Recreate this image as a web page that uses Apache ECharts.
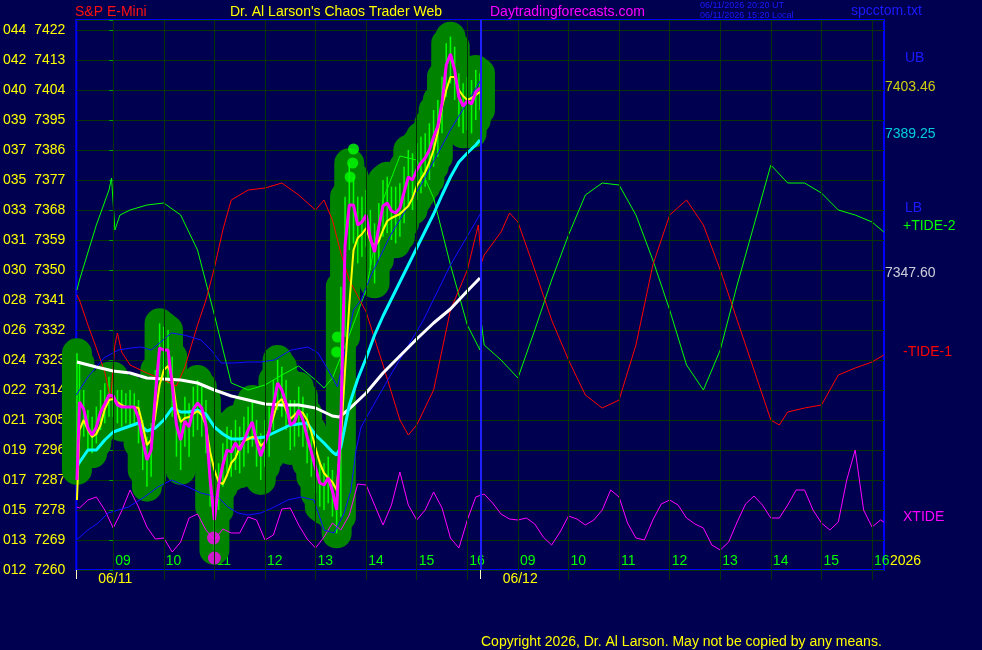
<!DOCTYPE html>
<html><head><meta charset="utf-8">
<script src="https://cdn.jsdelivr.net/npm/echarts@6/dist/echarts.min.js"></script>
<style>html,body{margin:0;padding:0;background:#000050;}#c{width:982px;height:650px;}</style>
</head><body><div id="c"></div>
<script>
// ---------- DATA ----------
const yTickValues = [7260,7269,7278,7287,7296,7305,7314,7323,7332,7341,7350,7359,7368,7377,7386,7395,7404,7413,7422];
const yTickLabels = ['012  7260','013  7269','015  7278','017  7287','019  7296','021  7305','022  7314','024  7323','026  7332','028  7341','030  7350','031  7359','033  7368','035  7377','037  7386','039  7395','040  7404','042  7413','044  7422'];
const hourTicks = [0,60,120,180,240,300,360,420,480,540,600,660,720,780,840,900]; // session minutes
const hourLabels = ['09','10','11','12','13','14','15','16','09','10','11','12','13','14','15','16'];
const dayTicks = [-43.8, 435.8];
const dayLabels = ['06/11','06/12'];

// price samples (session minutes)
const priceTimes = [-43]; for (let m = -40; m <= 435; m += 5) priceTimes.push(m);
const fastLine = [7287,7310.4,7308.3,7302.6,7300.5,7302.9,7307.4,7309.8,7312.5,
 7312.2,7309.5,7308.9,7308.9,7308.9,7308.9,7305.6,7299,7293,7296,
 7312.5,7326.6,7326,7326,7315.5,7303.5,7299,7304.7,7302.9,7308.3,
 7310.1,7308.6,7303.5,7287,7275,7285.5,7291.5,7296,7295.4,7298.1,
 7296,7298.7,7302,7304.4,7298.4,7294.2,7298.1,7301.4,7309.5,7316.1,
 7314,7310.1,7303.5,7304.4,7308,7305,7299.9,7295.4,7290.6,7286.1,
 7285.5,7287.6,7283.7,7278,7305,7357.5,7369.5,7369.5,7363.5,7364.4,
 7366.5,7359.6,7355.4,7362.9,7369.2,7370.1,7367.7,7367.1,7368.6,7373.4,
 7377.9,7377,7380,7382.1,7383.6,7386,7389.9,7393.2,7400.1,7411.5,
 7414.8,7410,7401.9,7399.2,7400.7,7399.8,7403.4,7404.6];
const slowLine = [7281,7302,7305,7302,7299.9,7300.8,7303.5,7308.3,7311,
 7311.3,7310.4,7309.5,7308.9,7308.9,7308.9,7308.6,7303.5,7297.5,7299,
 7306.5,7315.5,7320,7321.2,7317.6,7308.6,7304.4,7305.6,7305.9,7306.8,
 7307.7,7306.5,7303.2,7295.4,7290,7286.4,7285.8,7288.5,7292.1,7293.6,
 7296.9,7298.7,7299.3,7299.9,7299.6,7297.2,7298.4,7302,7305.9,7310.1,
 7311.3,7308,7305.3,7306.5,7307.7,7307.1,7305,7301.4,7296.6,7292.1,
 7289.1,7287.6,7286.4,7284,7299,7320,7339.5,7356,7359.6,7360.8,
 7362.6,7358.7,7357.2,7358.7,7362,7364.7,7365.6,7366.2,7366.8,7368,
 7369.2,7371.6,7375.2,7377.3,7379.4,7382.4,7386,7391.4,7398.9,7404,
 7407.9,7407.9,7404,7402.2,7401,7401.6,7402.5,7403.4];
const barHigh = [7325,7322,7314,7308,7306,7309,7314,7316,7318,
 7318,7314,7314,7313,7314,7313,7311,7305,7300,7304,
 7320,7334,7333,7332,7324,7310,7306,7312,7310,7315,
 7317,7315,7311,7296,7282,7292,7298,7303,7302,7305,
 7303,7306,7309,7311,7305,7301,7305,7309,7317,7323,
 7321,7317,7311,7311,7315,7312,7307,7302,7297,7293,
 7292,7294,7290,7285,7345,7372,7382,7378,7372,7372,
 7374,7368,7364,7370,7377,7378,7375,7375,7376,7381,
 7386,7385,7388,7390,7391,7394,7398,7401,7408,7418,
 7420,7417,7409,7406,7408,7407,7410,7409];
const barLow = [7290,7300,7300,7296,7295,7298,7302,7304,7306,
 7306,7304,7303,7304,7303,7304,7298,7290,7285,7288,
 7305,7318,7318,7316,7306,7294,7290,7297,7294,7300,
 7302,7300,7295,7279,7266,7278,7285,7289,7288,7290,
 7289,7291,7295,7297,7291,7287,7291,7294,7302,7308,
 7306,7302,7296,7297,7300,7297,7292,7288,7283,7279,
 7278,7280,7276,7271,7276,7330,7356,7358,7352,7354,
 7357,7350,7346,7353,7360,7361,7359,7358,7360,7364,
 7369,7368,7371,7373,7375,7377,7381,7384,7391,7402,
 7406,7401,7393,7391,7392,7391,7395,7398];
const cyanLine = [[-43,7291.2],[-30,7296],[-20,7296],[-10,7299],[0,7301.4],[10,7302.3],[20,7303.2],[30,7304.1],[40,7301.7],[50,7302.6],[60,7305],[70,7308.6],[80,7307.4],[90,7307.4],[100,7308],[110,7306.8],[120,7302.9],[130,7300.8],[140,7299.3],[150,7299.3],[160,7299.6],[170,7299.6],[180,7299.9],[190,7301.1],[200,7302.3],[210,7303.5],[220,7303.8],[230,7304.1],[240,7300.5],[250,7298.1],[260,7295.4],[265,7294.5],[270,7296.9],[280,7309.5],[290,7317.3],[300,7323.6],[310,7330.5],[320,7336.2],[330,7341.3],[340,7346.4],[350,7351.5],[360,7356.6],[370,7361.7],[380,7366.8],[390,7372.5],[400,7377.9],[410,7382.4],[420,7385.1],[430,7387.5],[435,7389]];
const whiteLine = [[-43,7322.4],[-20,7320.9],[0,7319.7],[20,7319.1],[40,7317.6],[60,7317.3],[80,7317],[100,7316.1],[120,7314],[140,7312.2],[160,7311],[180,7309.8],[200,7309.5],[220,7309.5],[240,7308.6],[260,7306.2],[268,7305.9],[280,7308.3],[300,7313.1],[320,7319.1],[340,7324.2],[360,7329.3],[380,7334.1],[400,7338.3],[420,7343.7],[435,7347.6]];
const upperBand = [[-43.8,7312.5],[-30,7317.9],[-11,7323.6],[6,7326],[21,7326.6],[33,7326.9],[45,7326],[69,7331.1],[84,7330.5],[104,7329],[116,7326],[128,7322.1],[143,7322.1],[160,7322.4],[175,7322.4],[191,7323],[211,7326],[231,7326.9],[243,7325.1],[255,7320],[266,7314.9],[276,7327],[285,7338],[294,7341],[306,7348.5],[329,7360.5],[365,7375.5],[400,7392],[436,7407]];
const lowerBand = [[-43.8,7269],[-30,7272],[-18,7274.1],[-6,7277.1],[18,7278.9],[37,7281.9],[53,7284.9],[69,7287],[89,7284.9],[104,7283.1],[124,7281.9],[136,7278.9],[148,7277.1],[160,7276.5],[175,7277.1],[191,7278.9],[207,7281],[223,7281.9],[238,7281],[250,7272],[262,7271.1],[274,7277.1],[282,7284],[288,7296],[294,7302.9],[329,7318.5],[368,7335],[400,7351.5],[436,7367.1]];
const tide2 = [[-43,7344],[-40,7347],[-20,7363.5],[-5,7374],[-2,7377.6],[2,7362],[8,7366.5],[20,7368],[40,7369.5],[60,7370.1],[80,7366.5],[100,7356],[120,7336.5],[140,7316.1],[160,7314],[180,7315.5],[200,7318.5],[220,7321.2],[240,7317],[250,7314.6],[260,7317.6],[280,7330.5],[300,7344],[320,7371],[340,7384.2],[360,7383],[380,7371.6],[400,7351.5],[420,7333.5],[435,7326],[437,7333.5],[440,7327.5],[460,7323],[480,7317.6],[500,7332],[520,7347],[540,7360.5],[560,7372.5],[580,7376.1],[600,7375.5],[620,7366.5],[640,7353],[660,7338],[680,7321.5],[700,7314],[720,7326],[740,7345.5],[760,7363.5],[780,7381.5],[800,7376.1],[820,7376.1],[840,7373.1],[860,7368],[880,7366.5],[900,7364.4],[914,7361.4]];
const tide1 = [[-43,7342.5],[-40,7341],[-30,7333.5],[-20,7326.6],[-10,7319.4],[-3,7311],[2,7327.5],[5,7331.1],[10,7325.4],[20,7321.5],[40,7319.1],[60,7317],[75,7315.2],[85,7320.9],[100,7333.5],[110,7341],[120,7350.6],[130,7362],[140,7371],[160,7374],[180,7374.6],[200,7376.1],[220,7372.5],[240,7368],[250,7371],[260,7365],[270,7355.1],[280,7347],[300,7337.4],[320,7321.5],[340,7305],[350,7300.5],[360,7303.5],[380,7314],[400,7338],[420,7350],[433,7363.5],[437,7352.4],[440,7354.5],[460,7361.4],[470,7367.1],[480,7364.4],[500,7350],[520,7335],[540,7323],[560,7312.5],[580,7308.6],[600,7311],[620,7327.5],[640,7351.5],[660,7366.5],[680,7371],[700,7363.5],[720,7350],[740,7335],[760,7320],[780,7305],[790,7303.5],[800,7307.4],[820,7308.6],[840,7309.5],[860,7318.5],[880,7320.6],[900,7322.4],[914,7324.5]];
const xtide = [[-43,7278.9],[-40,7278.6],[-30,7281],[-20,7281.9],[-10,7278],[0,7272.6],[10,7277.7],[20,7284],[30,7278.9],[40,7272.9],[50,7269.3],[60,7269.6],[70,7265.4],[80,7268.4],[90,7275.6],[100,7276.8],[110,7272],[120,7269],[130,7272.3],[140,7271.1],[150,7271.1],[160,7275.9],[170,7275],[180,7269],[190,7270.5],[200,7278.3],[210,7278.6],[220,7273.5],[230,7269.3],[240,7266.6],[250,7269.9],[260,7274.1],[270,7272],[280,7276.5],[290,7285.8],[300,7285.5],[310,7279.5],[320,7273.5],[330,7279.5],[340,7289.4],[350,7279.5],[360,7275],[370,7278],[380,7283.4],[390,7278.6],[400,7269.6],[410,7266.6],[420,7275],[430,7281.9],[440,7282.8],[450,7280.1],[460,7276.8],[470,7275.3],[480,7275],[490,7275.6],[500,7273.8],[510,7269.9],[520,7267.5],[530,7271.4],[540,7276.2],[550,7275.3],[560,7273.5],[570,7275],[580,7278],[590,7284],[600,7281.9],[610,7274.1],[620,7269.6],[630,7269],[640,7275],[650,7279.8],[660,7281],[670,7279.5],[680,7275.6],[690,7273.8],[700,7272.6],[710,7267.5],[720,7266],[730,7268.4],[740,7274.4],[750,7279.8],[760,7282.2],[770,7279.5],[780,7275.6],[790,7275.6],[800,7279.5],[810,7284],[820,7284],[830,7278],[840,7274.1],[850,7272],[860,7274.4],[870,7287],[880,7296],[890,7278],[900,7272.9],[910,7275],[914,7274.4]];
const lowMarks = [[119,7269.6],[120,7263.6]];
const highDots = [[285,7386.3],[284,7382.1],[281,7377.9],[266,7329.9],[265,7325.4]];
const endValues = [7403.46, 7389.25, 7347.60];

// ---------- CHART ----------
const X_MIN = -43.8, X_MAX = 914.2, DAY_SPLIT = 435.8;
const FONT = "'Liberation Sans', Arial, sans-serif";
const GRID_GREEN = '#053305';
const chart = echarts.init(document.getElementById('c'));
const bars = priceTimes.map((t, i) => [t, barHigh[i], barLow[i]]);
const zip = (a) => priceTimes.map((t, i) => [t, a[i]]);

function lineS(name, data, color, width) {
  return {name, type: 'line', data, symbol: 'none', silent: true,
    lineStyle: {color, width}, z: 3};
}

chart.setOption({
  animation: false,
  backgroundColor: '#000050',
  grid: {left: 75, top: 20, width: 809, height: 550, show: true, borderColor: '#0000ff', borderWidth: 2, backgroundColor: 'transparent'},
  xAxis: [{
    type: 'value', min: X_MIN, max: X_MAX,
    axisLine: {show: false}, splitLine: {show: false},
    axisTick: {show: true, customValues: hourTicks, length: 10, lineStyle: {color: GRID_GREEN, width: 1}},
    axisLabel: {customValues: hourTicks, inside: true, margin: 2, align: 'left', padding: [0,0,0,2],
      color: '#00ff00', fontFamily: FONT, fontSize: 14,
      formatter: v => hourLabels[hourTicks.indexOf(v)] || ''}
  }, {
    type: 'value', min: X_MIN, max: X_MAX, position: 'bottom',
    axisLine: {show: false}, splitLine: {show: false},
    axisTick: {customValues: dayTicks, length: 9, lineStyle: {color: '#ffffc0', width: 1}},
    axisLabel: {customValues: dayTicks, margin: 2, align: 'left', padding: [0,0,0,22],
      color: '#ffff00', fontFamily: FONT, fontSize: 14,
      formatter: v => dayLabels[dayTicks.indexOf(v)] || ''}
  }],
  yAxis: {
    type: 'value', min: 7260, max: 7425, interval: 9,
    axisLine: {show: false},
    axisTick: {show: true, length: 4, lineStyle: {color: '#00a000'}},
    splitLine: {show: true, lineStyle: {color: GRID_GREEN, width: 1}},
    axisLabel: {color: '#ffff00', fontFamily: FONT, fontSize: 14, margin: 11, padding: [0,0,10,0],
      formatter: v => { const i = yTickValues.indexOf(v); return i >= 0 ? yTickLabels[i] : ''; }}
  },
  series: [
    {type: 'line', data: [[0, 7260]], symbol: 'none', lineStyle: {opacity: 0}, silent: true, z: 1,
      markLine: {silent: true, symbol: ['none','none'], label: {show: false},
        lineStyle: {color: GRID_GREEN, width: 1, type: 'solid'},
        data: hourTicks.map(v => ({xAxis: v}))}},
    {type: 'custom', data: bars, encode: {x: 0, y: [1, 2]}, silent: true, z: 2, clip: false,
      renderItem: (params, api) => {
        const p1 = api.coord([api.value(0), api.value(1)]);
        const p2 = api.coord([api.value(0), api.value(2)]);
        const r = 15;
        return {type: 'rect', shape: {x: p1[0]-r, y: p1[1]-r, width: 2*r, height: p2[1]-p1[1]+2*r, r: r},
          style: {fill: '#008400'}};
      }},
    {type: 'custom', data: bars, encode: {x: 0, y: [1, 2]}, silent: true, z: 2,
      renderItem: (params, api) => {
        const p1 = api.coord([api.value(0), api.value(1)]);
        const p2 = api.coord([api.value(0), api.value(2)]);
        return {type: 'line', shape: {x1: p1[0], y1: p1[1], x2: p2[0], y2: p2[1]},
          style: {stroke: '#00ff00', lineWidth: 1.5}};
      }},
    {type: 'scatter', data: highDots, symbolSize: 11, itemStyle: {color: '#00ff00'}, silent: true, z: 2},
    lineS('tide2', tide2, '#00ff00', 1),
    lineS('tide1', tide1, '#ff0000', 1),
    lineS('xtide', xtide, '#ff00ff', 1),
    lineS('ub', upperBand, '#1010ff', 1),
    lineS('lb', lowerBand, '#1010ff', 1),
    lineS('white', whiteLine, '#ffffff', 3),
    lineS('cyan', cyanLine, '#00ffff', 3),
    lineS('yellow', zip(slowLine), '#ffff00', 2),
    lineS('magenta', zip(fastLine), '#ff00ff', 3),
    {type: 'scatter', data: lowMarks, symbolSize: 13, itemStyle: {color: '#ff00ff'}, silent: true, z: 4},
    {type: 'line', data: [[DAY_SPLIT, 7260]], symbol: 'none', lineStyle: {opacity: 0}, silent: true, z: 5,
      markLine: {silent: true, symbol: ['none','none'], label: {show: false},
        lineStyle: {color: '#2020ff', width: 2, type: 'solid'},
        data: [{xAxis: DAY_SPLIT}]}},
    {type: 'scatter', symbolSize: 0, silent: true, z: 6,
      data: [
        {value: [X_MAX, endValues[0]], label: {color: '#ffff00'}},
        {value: [X_MAX, endValues[1]], label: {color: '#00ffff'}},
        {value: [X_MAX, endValues[2]], label: {color: '#ffffff'}}
      ],
      label: {show: true, position: 'right', distance: 1, offset: [0, -5], fontFamily: FONT, fontSize: 14,
        formatter: p => p.value[1].toFixed(2)}}
  ],
  graphic: [
    {type: 'text', left: 75, top: 5, style: {text: 'S&P E-Mini', fill: '#ff1010', font: '14px ' + FONT}},
    {type: 'text', left: 230, top: 5, style: {text: "Dr. Al Larson's Chaos Trader Web", fill: '#ffff00', font: '14px ' + FONT}},
    {type: 'text', left: 490, top: 5, style: {text: 'Daytradingforecasts.com', fill: '#ff00ff', font: '14px ' + FONT}},
    {type: 'text', left: 700, top: 1, style: {text: '06/11/2026 20:20 UT', fill: '#1a1aff', font: '9px ' + FONT}},
    {type: 'text', left: 700, top: 11, style: {text: '06/11/2026 15:20 Local', fill: '#1a1aff', font: '9px ' + FONT}},
    {type: 'text', left: 851, top: 4, style: {text: 'spcctom.txt', fill: '#1a1aff', font: '14px ' + FONT}},
    {type: 'text', left: 905, top: 51, style: {text: 'UB', fill: '#1a1aff', font: '14px ' + FONT}},
    {type: 'text', left: 905, top: 201, style: {text: 'LB', fill: '#1a1aff', font: '14px ' + FONT}},
    {type: 'text', left: 903, top: 219, style: {text: '+TIDE-2', fill: '#00ff00', font: '14px ' + FONT}},
    {type: 'text', left: 903, top: 345, style: {text: '-TIDE-1', fill: '#ff0000', font: '14px ' + FONT}},
    {type: 'text', left: 903, top: 510, style: {text: 'XTIDE', fill: '#ff00ff', font: '14px ' + FONT}},
    {type: 'text', left: 890, top: 554, style: {text: '2026', fill: '#ffff00', font: '14px ' + FONT}},
    {type: 'text', left: 481, top: 635, style: {text: 'Copyright 2026, Dr. Al Larson. May not be copied by any means.', fill: '#ffff00', font: '14px ' + FONT}}
  ]
});
</script>
</body></html>
